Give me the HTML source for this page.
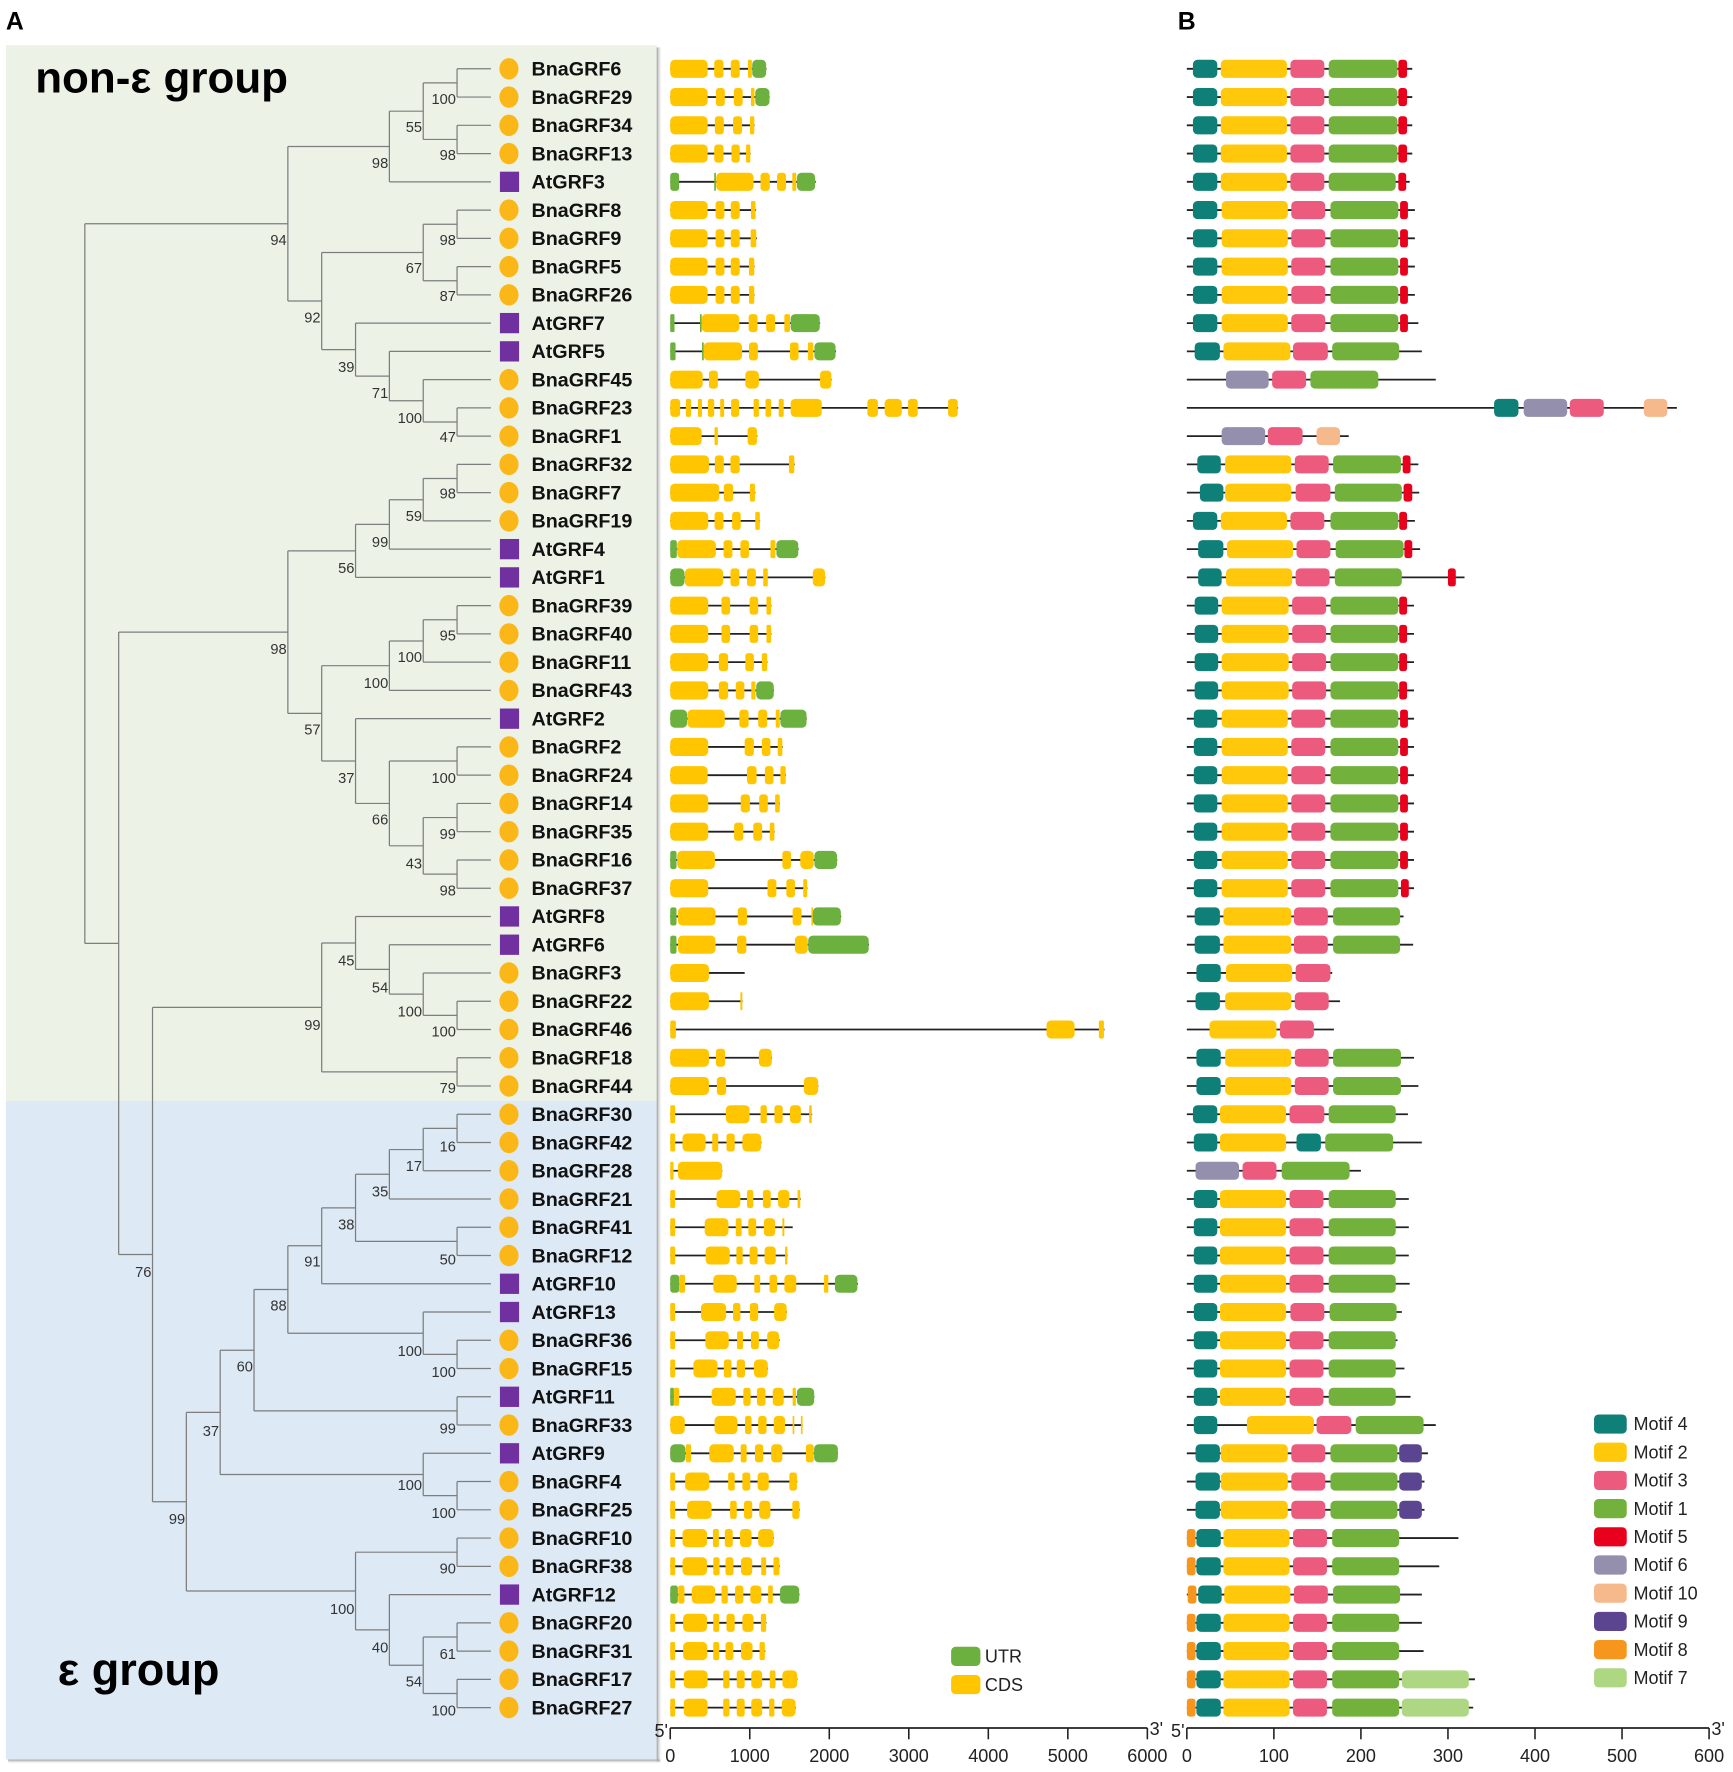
<!DOCTYPE html>
<html><head><meta charset="utf-8"><title>GRF phylogeny, gene structure and motifs</title>
<style>
html,body{margin:0;padding:0;background:#fff;}
svg{display:block;font-family:"Liberation Sans",Arial,sans-serif;}
</style></head>
<body>
<svg id="fig" width="1733" height="1772" viewBox="0 0 1536 1571" xmlns="http://www.w3.org/2000/svg">
  <defs>
    <linearGradient id="shR" x1="0" x2="1" y1="0" y2="0"><stop offset="0" stop-color="#9a9a9a"/><stop offset="1" stop-color="#ffffff" stop-opacity="0"/></linearGradient>
    <linearGradient id="shB" x1="0" x2="0" y1="0" y2="1"><stop offset="0" stop-color="#9a9a9a"/><stop offset="1" stop-color="#ffffff" stop-opacity="0"/></linearGradient>
  </defs>
  <rect x="5" y="40" width="577" height="936" fill="#ecf3e6"/>
  <rect x="5" y="976" width="577" height="584" fill="#dde9f5"/>
  <rect x="582" y="42" width="5" height="1520" fill="url(#shR)"/>
  <rect x="7" y="1560" width="578" height="4" fill="url(#shB)"/>
  <text x="5" y="26" font-size="22" font-weight="bold">A</text>
  <text x="1044" y="26" font-size="22" font-weight="bold">B</text>
  <text x="31" y="82" font-size="39" font-weight="bold">non-ε group</text>
  <text x="51" y="1494" font-size="40" font-weight="bold">ε group</text>
  <g id="tree"></g>
  <g id="leaves"></g>
  <g id="genes"></g>
  <g id="motifs"></g>
  <g id="axes"></g>
  <g id="legends"></g>
</svg>
<script>
// ---------- data ----------
const geneNames = ["BnaGRF6","BnaGRF29","BnaGRF34","BnaGRF13","AtGRF3","BnaGRF8","BnaGRF9","BnaGRF5","BnaGRF26","AtGRF7","AtGRF5","BnaGRF45","BnaGRF23","BnaGRF1","BnaGRF32","BnaGRF7","BnaGRF19","AtGRF4","AtGRF1","BnaGRF39","BnaGRF40","BnaGRF11","BnaGRF43","AtGRF2","BnaGRF2","BnaGRF24","BnaGRF14","BnaGRF35","BnaGRF16","BnaGRF37","AtGRF8","AtGRF6","BnaGRF3","BnaGRF22","BnaGRF46","BnaGRF18","BnaGRF44","BnaGRF30","BnaGRF42","BnaGRF28","BnaGRF21","BnaGRF41","BnaGRF12","AtGRF10","AtGRF13","BnaGRF36","BnaGRF15","AtGRF11","BnaGRF33","AtGRF9","BnaGRF4","BnaGRF25","BnaGRF10","BnaGRF38","AtGRF12","BnaGRF20","BnaGRF31","BnaGRF17","BnaGRF27"];

const geneLen = [1210,1250,1060,1010,1830,1080,1090,1060,1060,1885,2085,2030,3620,1095,1565,1070,1130,1615,1950,1272,1272,1222,1305,1717,1415,1455,1380,1313,2100,1725,2150,2500,936,910,5460,1280,1862,1785,1148,655,1640,1540,1476,2360,1467,1375,1230,1812,1665,2110,1597,1630,1305,1378,1625,1210,1195,1600,1580];

// exon segments [start, end, type] in bp; type c = CDS, u = UTR
const geneExons = [
[[0,470,'c'],[553,670,'c'],[761,874,'c'],[977,1027,'c'],[1031,1206,'u']],
[[0,470,'c'],[574,686,'c'],[799,911,'c'],[1015,1060,'c'],[1069,1248,'u']],
[[0,470,'c'],[561,674,'c'],[790,903,'c'],[1002,1057,'c']],
[[0,470,'c'],[553,670,'c'],[770,874,'c'],[953,1007,'c']],
[[0,112,'u'],[553,574,'u'],[578,1048,'c'],[1135,1252,'c'],[1343,1456,'c'],[1535,1585,'c'],[1593,1822,'u']],
[[0,470,'c'],[570,682,'c'],[761,874,'c'],[1015,1073,'c']],
[[0,470,'c'],[570,682,'c'],[761,874,'c'],[1011,1082,'c']],
[[0,470,'c'],[570,682,'c'],[761,874,'c'],[990,1057,'c']],
[[0,470,'c'],[570,682,'c'],[761,874,'c'],[990,1057,'c']],
[[0,54,'u'],[374,391,'u'],[395,869,'c'],[986,1098,'c'],[1206,1318,'c'],[1435,1506,'c'],[1514,1880,'u']],
[[0,67,'u'],[400,415,'u'],[420,903,'c'],[990,1102,'c'],[1506,1614,'c'],[1730,1800,'c'],[1813,2079,'u']],
[[0,408,'c'],[487,599,'c'],[944,1115,'c'],[1884,2026,'c']],
[[0,125,'c'],[196,262,'c'],[349,399,'c'],[474,553,'c'],[628,678,'c'],[765,865,'c'],[1048,1115,'c'],[1198,1269,'c'],[1364,1427,'c'],[1514,1905,'c'],[2479,2612,'c'],[2696,2912,'c'],[2991,3112,'c'],[3494,3615,'c']],
[[0,395,'c'],[557,599,'c'],[973,1090,'c']],
[[0,487,'c'],[561,674,'c'],[757,874,'c'],[1493,1560,'c']],
[[0,616,'c'],[674,790,'c'],[1002,1065,'c']],
[[0,478,'c'],[557,670,'c'],[778,886,'c'],[1069,1127,'c']],
[[0,83,'u'],[87,574,'c'],[670,782,'c'],[882,990,'c'],[1260,1323,'c'],[1335,1610,'u']],
[[0,179,'u'],[183,666,'c'],[757,869,'c'],[965,1077,'c'],[1169,1227,'c'],[1793,1947,'c']],
[[0,478,'c'],[644,753,'c'],[998,1106,'c'],[1210,1268,'c']],
[[0,478,'c'],[644,753,'c'],[998,1106,'c'],[1210,1268,'c']],
[[0,478,'c'],[611,728,'c'],[944,1052,'c'],[1152,1219,'c']],
[[0,478,'c'],[611,728,'c'],[824,932,'c'],[1019,1073,'c'],[1081,1302,'u']],
[[0,212,'u'],[216,686,'c'],[869,986,'c'],[1106,1219,'c'],[1327,1377,'c'],[1385,1714,'u']],
[[0,478,'c'],[936,1052,'c'],[1152,1260,'c'],[1352,1410,'c']],
[[0,470,'c'],[965,1086,'c'],[1190,1298,'c'],[1385,1452,'c']],
[[0,478,'c'],[886,1002,'c'],[1119,1227,'c'],[1319,1377,'c']],
[[0,478,'c'],[803,919,'c'],[1044,1156,'c'],[1252,1310,'c']],
[[0,79,'u'],[87,562,'c'],[1410,1518,'c'],[1635,1805,'c'],[1813,2097,'u']],
[[0,478,'c'],[1223,1335,'c'],[1460,1568,'c'],[1672,1722,'c']],
[[0,79,'u'],[96,570,'c'],[849,965,'c'],[1539,1651,'c'],[1775,1790,'c'],[1793,2146,'u']],
[[0,79,'u'],[96,570,'c'],[840,957,'c'],[1568,1730,'c'],[1735,2496,'u']],
[[0,487,'c']],
[[0,487,'c'],[882,907,'c']],
[[0,71,'c'],[4732,5085,'c'],[5390,5454,'c']],
[[0,487,'c'],[574,690,'c'],[1115,1277,'c']],
[[0,487,'c'],[586,703,'c'],[1680,1860,'c']],
[[0,62,'c'],[699,998,'c'],[1135,1215,'c'],[1310,1414,'c'],[1506,1643,'c'],[1747,1780,'c']],
[[0,62,'c'],[154,445,'c'],[528,603,'c'],[707,811,'c'],[907,1144,'c']],
[[0,42,'c'],[96,653,'c']],
[[0,62,'c'],[582,882,'c'],[965,1044,'c'],[1165,1264,'c'],[1356,1498,'c'],[1601,1635,'c']],
[[0,62,'c'],[433,732,'c'],[824,898,'c'],[982,1081,'c'],[1177,1319,'c'],[1410,1435,'c']],
[[0,62,'c'],[445,749,'c'],[832,911,'c'],[998,1098,'c'],[1186,1327,'c'],[1444,1473,'c']],
[[0,112,'u'],[112,187,'c'],[541,836,'c'],[1057,1131,'c'],[1248,1344,'c'],[1435,1585,'c'],[1934,1988,'c'],[2071,2354,'u']],
[[0,62,'c'],[387,703,'c'],[790,882,'c'],[1002,1106,'c'],[1306,1464,'c']],
[[0,62,'c'],[441,736,'c'],[840,915,'c'],[1015,1115,'c'],[1219,1368,'c']],
[[0,62,'c'],[291,595,'c'],[674,770,'c'],[836,940,'c'],[1052,1227,'c']],
[[0,46,'u'],[46,112,'c'],[520,824,'c'],[919,1011,'c'],[1090,1198,'c'],[1289,1427,'c'],[1539,1581,'c'],[1593,1810,'u']],
[[0,183,'c'],[557,845,'c'],[940,1023,'c'],[1106,1211,'c'],[1302,1444,'c'],[1539,1560,'c'],[1643,1660,'c']],
[[0,191,'u'],[196,262,'c'],[491,799,'c'],[886,961,'c'],[1065,1169,'c'],[1269,1410,'c'],[1706,1805,'c'],[1809,2108,'u']],
[[0,62,'c'],[187,491,'c'],[728,811,'c'],[907,1007,'c'],[1098,1239,'c'],[1498,1593,'c']],
[[0,62,'c'],[212,520,'c'],[753,836,'c'],[928,1031,'c'],[1119,1260,'c'],[1535,1626,'c']],
[[0,62,'c'],[154,462,'c'],[537,611,'c'],[686,786,'c'],[877,1023,'c'],[1106,1302,'c']],
[[0,62,'c'],[154,462,'c'],[541,620,'c'],[695,794,'c'],[890,1031,'c'],[1144,1206,'c'],[1298,1373,'c']],
[[0,96,'u'],[100,179,'c'],[270,566,'c'],[645,724,'c'],[815,919,'c'],[1007,1144,'c'],[1231,1290,'c'],[1381,1622,'u']],
[[0,62,'c'],[162,462,'c'],[541,616,'c'],[707,811,'c'],[907,1048,'c'],[1140,1206,'c']],
[[0,62,'c'],[162,466,'c'],[541,616,'c'],[695,794,'c'],[890,1035,'c'],[1123,1190,'c']],
[[0,62,'c'],[170,470,'c'],[666,745,'c'],[836,936,'c'],[1019,1156,'c'],[1252,1323,'c'],[1410,1597,'c']],
[[0,62,'c'],[170,470,'c'],[666,745,'c'],[836,936,'c'],[1019,1156,'c'],[1244,1310,'c'],[1402,1576,'c']]
];

const protLen = [259,259,259,259,256,262,262,262,262,266,270,286,563,186,266,267,262,268,319,261,261,261,261,261,261,261,261,261,261,261,249,260,167,176,169,261,266,254,270,200,255,255,255,256,247,242,250,257,286,277,273,273,312,290,270,270,272,331,329];

// motif segments [motif number, start aa, end aa]
const STD = [[4,7,35],[2,39,115],[3,119,158],[1,163,242],[5,243,253]];
const protMotifs = [
STD,STD,STD,STD,
[[4,7,35],[2,39,115],[3,119,158],[1,163,240],[5,243,252]],
[[4,7,35],[2,40,116],[3,120,159],[1,165,243],[5,245,254]],
[[4,7,35],[2,40,116],[3,120,159],[1,165,243],[5,245,254]],
[[4,7,35],[2,40,116],[3,120,159],[1,165,243],[5,245,254]],
[[4,7,35],[2,40,116],[3,120,159],[1,165,243],[5,245,254]],
[[4,7,35],[2,40,116],[3,120,159],[1,165,243],[5,245,254]],
[[4,9,38],[2,42,119],[3,122,162],[1,167,244]],
[[6,45,94],[3,98,137],[1,142,220]],
[[4,353,381],[6,387,437],[3,440,479],[10,525,552]],
[[6,40,90],[3,93,133],[10,149,176]],
[[4,12,39],[2,44,120],[3,124,163],[1,168,246],[5,248,257]],
[[4,15,42],[2,44,120],[3,125,165],[1,170,247],[5,249,259]],
[[4,7,35],[2,39,115],[3,119,158],[1,165,243],[5,244,253]],
[[4,13,42],[2,46,122],[3,126,165],[1,171,249],[5,250,259]],
[[4,13,40],[2,45,121],[3,125,164],[1,170,247],[5,300,309]],
[[4,9,36],[2,40,117],[3,121,160],[1,165,243],[5,244,253]],
[[4,9,36],[2,40,117],[3,121,160],[1,165,243],[5,244,253]],
[[4,9,36],[2,40,117],[3,121,160],[1,165,243],[5,244,253]],
[[4,9,36],[2,40,117],[3,121,160],[1,165,243],[5,244,253]],
[[4,8,35],[2,40,116],[3,120,159],[1,165,243],[5,245,254]],
[[4,8,35],[2,40,116],[3,120,159],[1,165,243],[5,245,254]],
[[4,8,35],[2,40,116],[3,120,159],[1,165,243],[5,245,254]],
[[4,8,35],[2,40,116],[3,120,159],[1,165,243],[5,245,254]],
[[4,8,35],[2,40,116],[3,120,159],[1,165,243],[5,245,254]],
[[4,8,35],[2,40,116],[3,120,159],[1,165,243],[5,245,254]],
[[4,8,35],[2,40,116],[3,120,159],[1,165,243],[5,246,255]],
[[4,9,38],[2,42,120],[3,123,162],[1,168,245]],
[[4,9,38],[2,42,120],[3,123,162],[1,168,245]],
[[4,11,39],[2,45,121],[3,125,165]],
[[4,10,38],[2,44,120],[3,124,163]],
[[2,26,103],[3,107,146]],
[[4,11,39],[2,44,120],[3,124,163],[1,168,246]],
[[4,11,39],[2,44,120],[3,124,163],[1,168,246]],
[[4,7,35],[2,38,114],[3,118,158],[1,163,240]],
[[4,8,35],[2,38,114],[4,126,154],[1,159,237]],
[[6,10,60],[3,64,103],[1,109,187]],
[[4,8,35],[2,38,114],[3,118,157],[1,163,240]],
[[4,8,35],[2,38,114],[3,118,157],[1,163,240]],
[[4,8,35],[2,38,114],[3,118,157],[1,163,240]],
[[4,8,35],[2,38,114],[3,118,157],[1,163,240]],
[[4,8,35],[2,38,114],[3,119,158],[1,164,241]],
[[4,8,35],[2,38,114],[3,118,157],[1,163,240]],
[[4,8,35],[2,38,114],[3,118,157],[1,163,240]],
[[4,8,35],[2,38,114],[3,118,157],[1,163,240]],
[[4,8,35],[2,69,146],[3,149,189],[1,194,272]],
[[4,10,38],[2,39,116],[3,120,159],[1,165,242],[9,244,270]],
[[4,10,38],[2,39,116],[3,120,159],[1,165,242],[9,244,270]],
[[4,10,38],[2,39,116],[3,120,159],[1,165,242],[9,244,270]],
[[8,0,10],[4,11,39],[2,42,118],[3,122,161],[1,167,244]],
[[8,0,10],[4,11,39],[2,42,118],[3,122,161],[1,167,244]],
[[8,1,11],[4,13,40],[2,43,119],[3,123,162],[1,168,245]],
[[8,0,10],[4,11,39],[2,42,118],[3,122,161],[1,167,244]],
[[8,0,10],[4,11,39],[2,42,118],[3,122,161],[1,167,244]],
[[8,0,10],[4,11,39],[2,42,118],[3,122,161],[1,167,244],[7,247,324]],
[[8,0,10],[4,11,39],[2,42,118],[3,122,161],[1,167,244],[7,247,324]]
];

const geneTicks = [0,1000,2000,3000,4000,5000,6000];
const protTicks = [0,100,200,300,400,500,600];
const motifLegend = [4,2,3,1,5,6,10,9,8,7];

// ---------- layout / scales ----------
const NS = "http://www.w3.org/2000/svg";
const ROW0 = 61, ROWH = 25.05;
const rowY = i => ROW0 + ROWH * i;
const gx = bp => 594 + bp * (423 / 6000);
const px = aa => 1052 + aa * (463 / 600);
const motifColor = {1:"#72b13b",2:"#ffc80a",3:"#ec5a7d",4:"#0e8078",5:"#e8001c",6:"#938fac",7:"#add782",8:"#f7961d",9:"#5b4590",10:"#f6b98b"};
const CDS = "#ffc600", UTR = "#6cb13f";

function el(tag, attrs, parent) {
  const e = document.createElementNS(NS, tag);
  for (const k in attrs) e.setAttribute(k, attrs[k]);
  parent.appendChild(e);
  return e;
}

// ---------- tree ----------
function N(b, ly, a, c) { return {b: b, ly: ly, kids: [a, c]}; }
const top98 = N('98',144, N('55',112, N('100',87,0,1), N('98',137,2,3)), 4);
const c67 = N('67',237, N('98',212,5,6), N('87',262,7,8));
const c39 = N('39',325, 9, N('71',348, 10, N('100',370, 11, N('47',387,12,13))));
const c94 = N('94',212, top98, N('92',281, c67, c39));
const c56 = N('56',503, N('99',480, N('59',457, N('98',437,14,15), 16), 17), 18);
const c100a = N('100',605, N('100',582, N('95',563,19,20), 21), 22);
const c66 = N('66',726, N('100',689,24,25), N('43',765, N('99',739,26,27), N('98',789,28,29)));
const c57 = N('57',646, c100a, N('37',689, 23, c66));
const c98m = N('98',575, c56, c57);
const c99a = N('99',908, N('45',851, 30, N('54',875, 31, N('100',896, 32, N('100',914,33,34)))), N('79',964,35,36));
const c38 = N('38',1085, N('35',1056, N('17',1033, N('16',1016,37,38), 39), 40), N('50',1116,41,42));
const c88 = N('88',1157, N('91',1118, c38, 43), N('100',1197, 44, N('100',1216,45,46)));
const c37b = N('37',1268, N('60',1211, c88, N('99',1266,47,48)), N('100',1316, 49, N('100',1341,50,51)));
const c100b = N('100',1426, N('90',1390,52,53), N('40',1460, 54, N('54',1490, N('61',1466,55,56), N('100',1516,57,58))));
const c135 = N('76',1127, c99a, N('99',1346, c37b, c100b));
const root = N('', 0, c94, N('', 0, c98m, c135));

const LEAFX = 435, STEP = 30;
const treeG = document.getElementById('tree');
function layout(n) {
  if (typeof n === 'number') return {x: LEAFX, y: rowY(n), h: 0};
  const r = n.kids.map(layout);
  n.h = Math.max(r[0].h, r[1].h) + 1;
  n.x = LEAFX - STEP * n.h;
  n.y = (r[0].y + r[1].y) / 2;
  n.r = r;
  return {x: n.x, y: n.y, h: n.h};
}
layout(root);
function drawTree(n) {
  if (typeof n === 'number') return;
  const v = el('line', {x1:n.x, x2:n.x, y1:n.r[0].y, y2:n.r[1].y, stroke:'#7d7d7d', 'stroke-width':1.1}, treeG);
  
  
  n.r.forEach(c => {
    const h = el('line', {x1:n.x, x2:c.x, y1:c.y, y2:c.y, stroke:'#7d7d7d', 'stroke-width':1.1}, treeG);
    
    
  });
  if (n.b) {
    const t = el('text', {x:n.x - 1, y:n.ly + 5, 'font-size':13, fill:'#333', 'text-anchor':'end'}, treeG);
    
    
    t.textContent = n.b;
  }
  n.kids.forEach(drawTree);
}
drawTree(root);

// ---------- leaves ----------
const leafG = document.getElementById('leaves');
geneNames.forEach((name, i) => {
  const y = rowY(i);
  if (name.startsWith('At')) {
    const s = el('rect', {x:443, y:y-9, width:17, height:18, fill:'#7030a0'}, leafG);
    
    
  } else {
    const c = el('ellipse', {cx:451, cy:y, rx:8.5, ry:9.5, fill:'#fbb718'}, leafG);
    
    
  }
  const t = el('text', {x:471, y:y + 6, 'font-size':17.5, 'font-weight':'bold', fill:'#111'}, leafG);
  
  
  t.textContent = name;
});

// ---------- gene structures ----------
const geneG = document.getElementById('genes');
geneExons.forEach((exs, i) => {
  const y = rowY(i);
  const ln = el('line', {x1:gx(0), x2:gx(geneLen[i]), y1:y, y2:y, stroke:'#222', 'stroke-width':1.6}, geneG);
  
  
  exs.forEach(e => {
    const w = Math.max(gx(e[1]) - gx(e[0]), 1.5);
    const r = el('rect', {x:gx(e[0]), y:y-8, width:w, height:16, rx:Math.min(4, w/3), fill:e[2]==='u'?UTR:CDS}, geneG);
    
    
  });
});

// ---------- motifs ----------
const motG = document.getElementById('motifs');
protMotifs.forEach((ms, i) => {
  const y = rowY(i);
  const ln = el('line', {x1:px(0), x2:px(protLen[i]), y1:y, y2:y, stroke:'#222', 'stroke-width':1.6}, motG);
  
  
  ms.forEach(m => {
    const w = px(m[2]) - px(m[1]);
    const r = el('rect', {x:px(m[1]), y:y-8, width:w, height:16, rx:Math.min(4, w/3), fill:motifColor[m[0]]}, motG);
    
    
  });
});

// ---------- axes ----------
const axG = document.getElementById('axes');
function axis(ticks, f, name) {
  const AY = 1532;
  const l = el('line', {x1:f(ticks[0]), x2:f(ticks[ticks.length-1]), y1:AY, y2:AY, stroke:'#222', 'stroke-width':1.6}, axG);
  
  
  ticks.forEach(v => {
    const t = el('line', {x1:f(v), x2:f(v), y1:AY, y2:AY + 10, stroke:'#222', 'stroke-width':1.4}, axG);
    
    
    const tx = el('text', {x:f(v), y:AY + 30, 'font-size':16, 'text-anchor':'middle', fill:'#222'}, axG);
    
    
    tx.textContent = v;
  });
  const s = el('text', {x:f(ticks[0]) - 14, y:AY + 8, 'font-size':16, fill:'#222'}, axG);
  
  
  s.textContent = "5'";
  const e = el('text', {x:f(ticks[ticks.length-1]) + 2, y:AY + 6, 'font-size':16, fill:'#222'}, axG);
  
  
  e.textContent = "3'";
}
axis(geneTicks, gx, 'gene-axis');
axis(protTicks, px, 'motif-axis');

// ---------- legends ----------
const lgG = document.getElementById('legends');
[['UTR', UTR, 1468], ['CDS', CDS, 1493]].forEach(d => {
  const r = el('rect', {x:843, y:d[2]-8, width:26, height:17, rx:4, fill:d[1]}, lgG);
  
  
  const t = el('text', {x:873, y:d[2]+6, 'font-size':16, fill:'#222'}, lgG);
  
  
  t.textContent = d[0];
});
motifLegend.forEach((m, k) => {
  const y = 1262 + k * 25;
  const r = el('rect', {x:1413, y:y-8, width:29, height:17, rx:4, fill:motifColor[m]}, lgG);
  
  
  const t = el('text', {x:1448, y:y+6, 'font-size':16, fill:'#222'}, lgG);
  
  
  t.textContent = 'Motif ' + m;
});
</script>
</body></html>
